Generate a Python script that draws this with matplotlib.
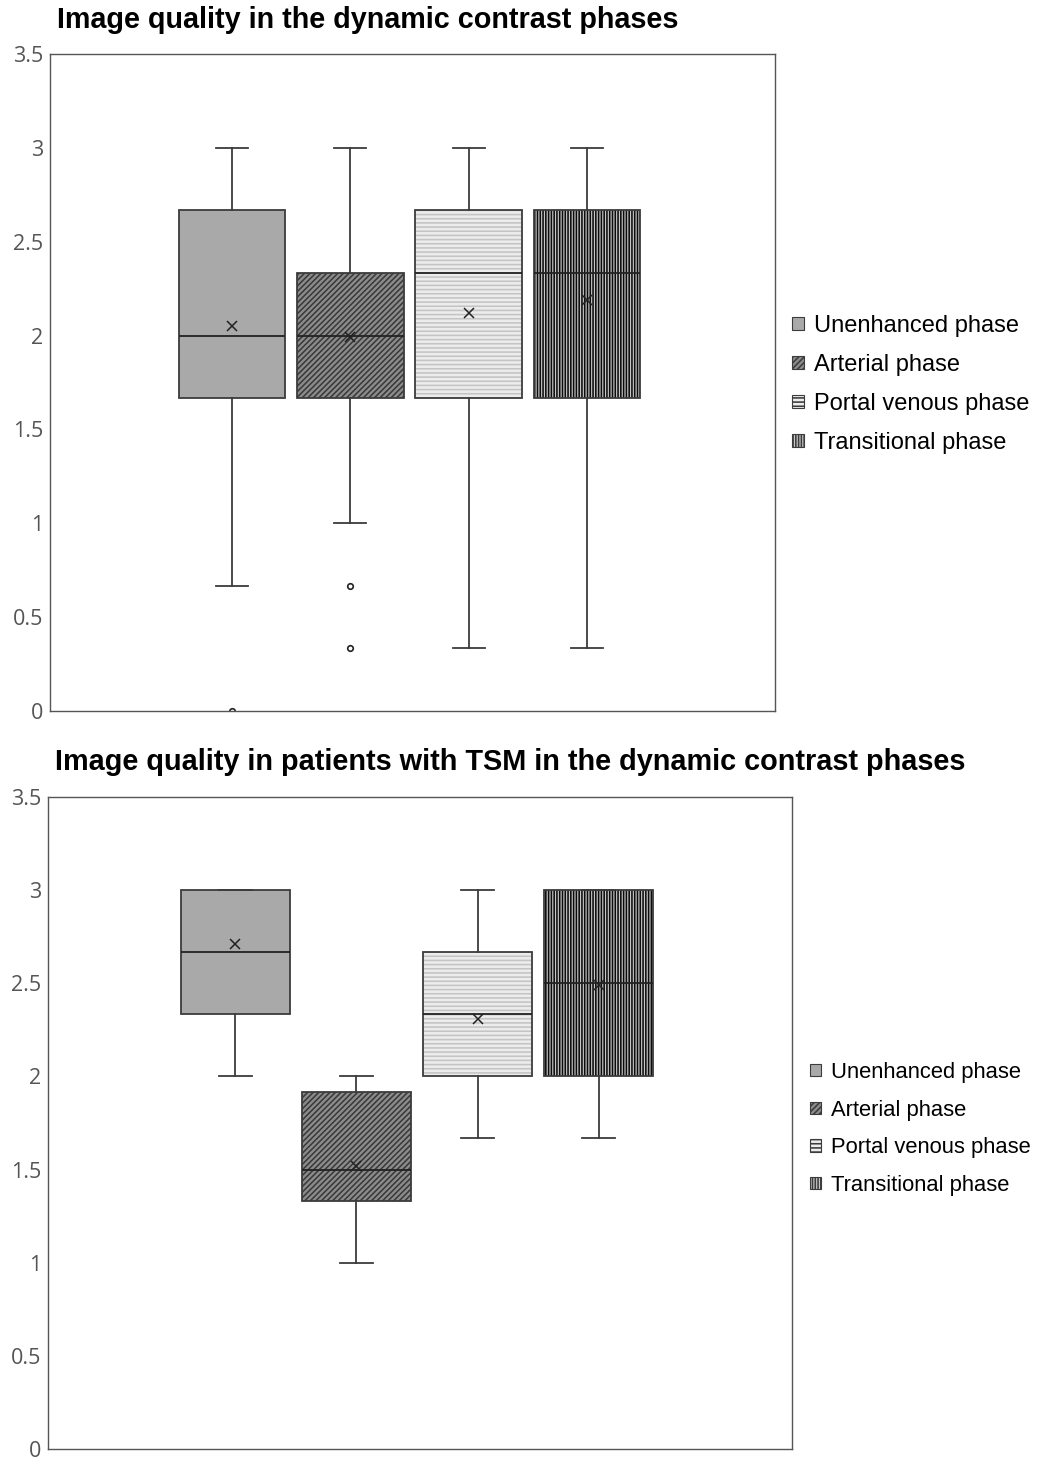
import matplotlib
matplotlib.use("Agg")
import matplotlib.pyplot as plt
from matplotlib.patches import Patch, PathPatch

# ------------------------------------------------------------
# data (score 0-3)
# ------------------------------------------------------------
phases = ["Unenhanced phase", "Arterial phase", "Portal venous phase", "Transitional phase"]

# all patients
all_q1 = [1.667, 1.667, 1.667, 1.667]
all_med = [2.0, 2.0, 2.333, 2.333]
all_q3 = [2.667, 2.333, 2.667, 2.667]
all_mean = [2.05, 1.99, 2.12, 2.19]
all_wlo = [0.667, 1.0, 0.333, 0.333]
all_whi = [3.0, 3.0, 3.0, 3.0]
all_fliers = [[0.0], [0.667, 0.333], [], []]

# patients with TSM
tsm_q1 = [2.333, 1.333, 2.0, 2.0]
tsm_med = [2.667, 1.5, 2.333, 2.5]
tsm_q3 = [3.0, 1.917, 2.667, 3.0]
tsm_mean = [2.71, 1.52, 2.31, 2.49]
tsm_wlo = [2.0, 1.0, 1.667, 1.667]
tsm_whi = [3.0, 2.0, 3.0, 3.0]
tsm_fliers = [[], [], [], []]

# style per phase: face, hatch, hatch colour
styles = [
    dict(face="#a9a9a9", hatch="", hc="#a9a9a9"),
    dict(face="#8c8c8c", hatch="//////", hc="#3a3a3a"),
    dict(face="#ececec", hatch="----", hc="#c4c4c4"),
    dict(face="#c8c8c8", hatch="||||||", hc="#0c0c0c"),
]

plt.rcParams["hatch.linewidth"] = 1.15
edge = "#3c3c3c"


def make_stats(q1, med, q3, mean, wlo, whi, fliers):
    out = []
    for i in range(len(q1)):
        out.append(dict(q1=q1[i], med=med[i], q3=q3[i], mean=mean[i],
                        whislo=wlo[i], whishi=whi[i], fliers=fliers[i], label=""))
    return out


def draw(ax, stats):
    bp = ax.bxp(stats, positions=[1, 2, 3, 4], widths=0.9, capwidths=0.27,
                patch_artist=True, showmeans=True,
                medianprops=dict(color="#222222", linewidth=1.3),
                whiskerprops=dict(color=edge, linewidth=1.3),
                capprops=dict(color=edge, linewidth=1.3),
                meanprops=dict(marker="x", markeredgecolor="#222222",
                               markersize=7, markeredgewidth=1.1),
                flierprops=dict(marker="o", markerfacecolor="none",
                                markeredgecolor="#222222", markersize=4,
                                markeredgewidth=1.2))
    for box, st in zip(bp["boxes"], styles):
        box.set_facecolor(st["face"])
        box.set_hatch(st["hatch"])
        box.set_edgecolor(st["hc"])
        box.set_linewidth(0)
        # outline drawn on top so the hatch colour can differ from the border
        ax.add_patch(PathPatch(box.get_path(), fill=False, edgecolor=edge,
                               linewidth=1.3, zorder=box.get_zorder() + 0.1))
    for m in bp["medians"]:
        m.set_zorder(3)
    ax.set_ylim(0, 3.5)
    ax.set_yticks([0, 0.5, 1, 1.5, 2, 2.5, 3, 3.5])
    ax.set_yticklabels(["0", "0.5", "1", "1.5", "2", "2.5", "3", "3.5"])
    ax.set_xticks([])
    ax.tick_params(axis="y", length=0, pad=5, labelsize=15.5, labelcolor="#555555")
    for lab in ax.get_yticklabels():
        lab.set_family("Open Sans")
    for s in ax.spines.values():
        s.set_color("#555555")
        s.set_linewidth(1.0)


def handles():
    return [Patch(facecolor=st["face"], hatch=st["hatch"], edgecolor=edge,
                  linewidth=0.8) for st in styles]


fig = plt.figure(figsize=(10.5, 14.62), dpi=100)
plt.rcParams["font.family"] = ["Liberation Sans", "DejaVu Sans"]

ax1 = fig.add_axes([0.0476, 0.5137, 0.6905, 0.4494])
draw(ax1, make_stats(all_q1, all_med, all_q3, all_mean, all_wlo, all_whi, all_fliers))
ax1.set_xlim(1 - 1.54, 4 + 1.59)

# bottom edge lifted a few pixels so the "0" label is not clipped
ax2 = fig.add_axes([0.0457, 13 / 1462, 0.7086, 652 / 1462])
draw(ax2, make_stats(tsm_q1, tsm_med, tsm_q3, tsm_mean, tsm_wlo, tsm_whi, tsm_fliers))
ax2.set_xlim(1 - 1.545, 4 + 1.595)

fig.text(0.054, 1 - 20 / 1462, "Image quality in the dynamic contrast phases",
         fontsize=20.7, fontweight="bold", va="center", ha="left")
fig.text(0.052, 1 - 762 / 1462,
         "Image quality in patients with TSM in the dynamic contrast phases",
         fontsize=20.8, fontweight="bold", va="center", ha="left")

fig.legend(handles(), phases, loc="upper left",
           bbox_to_anchor=(792 / 1050, 1 - 315 / 1462),
           frameon=False, fontsize=17, handlelength=0.5, handleheight=0.5,
           handletextpad=0.45, labelspacing=0.72, borderpad=0, borderaxespad=0)
fig.legend(handles(), phases, loc="upper left",
           bbox_to_anchor=(810 / 1050, 1 - 1062 / 1462),
           frameon=False, fontsize=15.8, handlelength=0.5, handleheight=0.5,
           handletextpad=0.45, labelspacing=0.76, borderpad=0, borderaxespad=0)

fig.savefig("out.png", dpi=100)
